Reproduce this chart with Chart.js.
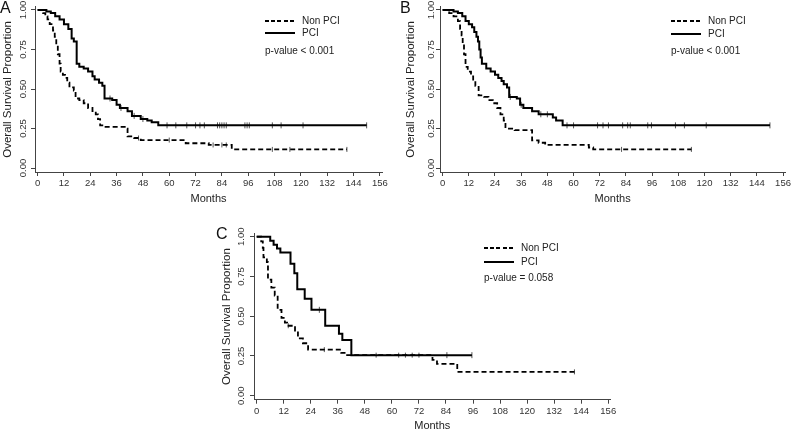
<!DOCTYPE html>
<html>
<head>
<meta charset="utf-8">
<script src="https://cdn.jsdelivr.net/npm/chart.js@4.4.1/dist/chart.umd.min.js"></script>
<style>
  html, body { margin: 0; padding: 0; background: #fff; }
  #wrap { position: relative; width: 793px; height: 433px; overflow: hidden; font-family: "Liberation Sans", Arial, sans-serif; }
  canvas { position: absolute; }
  .lbl { position: absolute; color: #222; font-size: 10px; line-height: 12px; white-space: nowrap; }
  .letter { position: absolute; color: #111; font-size: 16px; line-height: 16px; }
  .dash { position: absolute; width: 30px; height: 1.8px; background: repeating-linear-gradient(90deg, #000 0 4px, transparent 4px 6.2px); }
  .solid { position: absolute; width: 30px; height: 1.8px; background: #000; }
</style>
</head>
<body>
<div id="wrap">
  <canvas id="cA" width="395" height="215" style="left:0;top:0"></canvas>
  <canvas id="cB" width="393" height="215" style="left:400px;top:0"></canvas>
  <canvas id="cC" width="410" height="223" style="left:210px;top:210px"></canvas>

  <div class="letter" style="left:0px;top:0px">A</div>
  <div class="letter" style="left:400px;top:0px">B</div>
  <div class="letter" style="left:216px;top:226px">C</div>

  <div class="dash" style="left:265px;top:20px"></div>
  <div class="lbl" style="left:302px;top:15px">Non PCI</div>
  <div class="solid" style="left:265px;top:32px"></div>
  <div class="lbl" style="left:302px;top:27px">PCI</div>
  <div class="lbl" style="left:265px;top:45px">p-value &lt; 0.001</div>

  <div class="dash" style="left:671px;top:20px"></div>
  <div class="lbl" style="left:708px;top:15px">Non PCI</div>
  <div class="solid" style="left:671px;top:33px"></div>
  <div class="lbl" style="left:708px;top:28px">PCI</div>
  <div class="lbl" style="left:671px;top:45px">p-value &lt; 0.001</div>

  <div class="dash" style="left:484px;top:247px"></div>
  <div class="lbl" style="left:521px;top:242px">Non PCI</div>
  <div class="solid" style="left:484px;top:261px"></div>
  <div class="lbl" style="left:521px;top:256px">PCI</div>
  <div class="lbl" style="left:484px;top:272px">p-value = 0.058</div>
</div>
<script>
// ---- tick values ----
const xTickValues = [0, 12, 24, 36, 48, 60, 72, 84, 96, 108, 120, 132, 144, 156];
const yTickValues = [0, 0.25, 0.5, 0.75, 1];
const seriesNames = ['Non PCI', 'PCI'];

// ---- Panel A ----
const aNonTime = [0, 2.5, 3.5, 4.5, 5.5, 7, 7.8, 8.5, 9.2, 10, 10.5, 11.5, 12.5, 13.5, 14.5, 16.5, 17.3, 19, 21, 23, 25, 26.5, 27.5, 28.5, 30, 40.5, 41, 44, 47, 67.5, 78, 88.5, 141];
const aNonSurv = [1, 0.98, 0.96, 0.94, 0.91, 0.87, 0.83, 0.78, 0.72, 0.66, 0.61, 0.59, 0.57, 0.54, 0.51, 0.49, 0.44, 0.43, 0.41, 0.38, 0.36, 0.34, 0.31, 0.27, 0.26, 0.25, 0.20, 0.19, 0.177, 0.157, 0.146, 0.118, 0.118];
const aPciTime = [0, 4, 6, 8, 10, 12, 14, 15.5, 16.5, 17.8, 19, 21, 23, 25, 26, 28, 29.5, 30.5, 34, 36, 37.5, 41, 43, 47, 50, 52, 55, 150];
const aPciSurv = [1, 0.99, 0.98, 0.96, 0.94, 0.91, 0.88, 0.82, 0.80, 0.66, 0.64, 0.63, 0.61, 0.58, 0.56, 0.54, 0.52, 0.44, 0.43, 0.40, 0.38, 0.36, 0.33, 0.31, 0.30, 0.29, 0.27, 0.27];
const aNonCensor = [46, 60, 80, 84, 86, 107, 115, 141];
const aPciCensor = [33, 38, 44, 48, 59, 63, 68, 72, 74, 76, 82, 83, 84, 85, 86, 94.5, 95.5, 96.5, 107, 111, 121, 150];

// ---- Panel B ----
const bNonTime = [0, 3, 5, 7, 8, 8.7, 9.2, 9.8, 10.5, 11.5, 13, 14, 15, 16.5, 19, 21, 23, 25, 26.5, 28, 28.8, 33, 41, 44, 47, 67, 69, 114];
const bNonSurv = [1, 0.98, 0.96, 0.93, 0.88, 0.84, 0.79, 0.72, 0.64, 0.61, 0.58, 0.55, 0.52, 0.46, 0.45, 0.43, 0.41, 0.38, 0.34, 0.30, 0.25, 0.24, 0.175, 0.16, 0.146, 0.13, 0.118, 0.118];
const bPciTime = [0, 5, 7, 9, 10.5, 12, 13.5, 14.5, 15.5, 16.2, 16.8, 17.4, 18, 20, 22, 24, 25.5, 27, 28, 29.5, 30.5, 34, 35.5, 37, 41, 44, 50.5, 52, 55, 150];
const bPciSurv = [1, 0.99, 0.98, 0.96, 0.93, 0.91, 0.89, 0.86, 0.83, 0.80, 0.75, 0.70, 0.66, 0.63, 0.61, 0.59, 0.57, 0.55, 0.53, 0.51, 0.45, 0.44, 0.40, 0.38, 0.36, 0.34, 0.32, 0.30, 0.27, 0.27];
const bNonCensor = [82, 114];
const bPciCensor = [31, 36, 45, 48, 57, 60, 71, 73.5, 76, 82.5, 84.8, 86, 94, 95.7, 106.7, 110.8, 120.8, 150];

// ---- Panel C ----
const cNonTime = [0, 2, 2.7, 3, 4.5, 5, 6.5, 8, 9.3, 11, 12.5, 13.5, 17, 18.3, 20.5, 22.8, 37.5, 39, 78, 80, 89, 141];
const cNonSurv = [1, 0.97, 0.93, 0.87, 0.84, 0.73, 0.68, 0.63, 0.54, 0.49, 0.46, 0.44, 0.41, 0.36, 0.33, 0.29, 0.27, 0.255, 0.225, 0.20, 0.15, 0.15];
const cPciTime = [0, 6, 7.5, 9, 10.5, 15, 16.7, 18, 21.3, 24.3, 30.4, 36.5, 38, 42, 95.5];
const cPciSurv = [1, 0.975, 0.95, 0.925, 0.90, 0.83, 0.77, 0.67, 0.61, 0.54, 0.44, 0.39, 0.35, 0.255, 0.255];
const cNonCensor = [14, 30, 53, 63, 66, 69, 72, 141];
const cPciCensor = [27.8, 84.4, 95.5];

// ---- helpers ----
function stepAt(times, surv, t) {
  let v = surv[0];
  for (let i = 0; i < times.length; i++) { if (times[i] <= t) v = surv[i]; }
  return v;
}
function curve(times, surv) { return times.map((t, i) => ({ x: t, y: surv[i] })); }
function censor(cens, times, surv) { return cens.map(t => ({ x: t, y: stepAt(times, surv, t) })); }

const TXT = '#333';
const FONT = '"Liberation Sans", Arial, sans-serif';

const yLabelPlugin = {
  id: 'ylab',
  afterDraw(chart, args, opts) {
    const s = chart.scales.y;
    const ctx = chart.ctx;
    ctx.save();
    ctx.font = '9.5px ' + FONT;
    ctx.fillStyle = TXT;
    ctx.textAlign = 'center';
    ctx.textBaseline = 'middle';
    s.ticks.forEach(t => {
      const y = s.getPixelForValue(t.value);
      ctx.save();
      ctx.translate(opts.x, y);
      ctx.rotate(-Math.PI / 2);
      ctx.fillText(Number(t.value).toFixed(2), 0, 0);
      ctx.restore();
    });
    ctx.restore();
  }
};

function makeChart(id, p) {
  const datasets = [
    { type: 'line', label: seriesNames[0], data: curve(p.nonT, p.nonS), stepped: true, borderColor: '#000', borderWidth: 1.8, borderDash: [5, 3], pointRadius: 0, fill: false },
    { type: 'line', label: seriesNames[1], data: curve(p.pciT, p.pciS), stepped: true, borderColor: '#000', borderWidth: 2, pointRadius: 0, fill: false },
    { type: 'scatter', label: 'c1', data: censor(p.nonC, p.nonT, p.nonS), pointStyle: 'line', rotation: 90, pointRadius: 2.5, borderColor: '#555', borderWidth: 1 },
    { type: 'scatter', label: 'c2', data: censor(p.pciC, p.pciT, p.pciS), pointStyle: 'line', rotation: 90, pointRadius: 3, borderColor: '#555', borderWidth: 1 }
  ];
  return new Chart(document.getElementById(id), {
    type: 'line',
    data: { datasets },
    plugins: [yLabelPlugin],
    options: {
      responsive: false,
      animation: false,
      events: [],
      layout: { padding: { left: 0, right: p.padRight, top: p.padTop, bottom: 0 } },
      plugins: { legend: { display: false }, tooltip: { enabled: false }, ylab: { x: p.yLabX } },
      scales: {
        x: {
          type: 'linear', min: -1.2, max: 157,
          afterBuildTicks: s => { s.ticks = xTickValues.map(v => ({ value: v })); },
          afterFit: s => { s.height = p.xH; },
          ticks: { autoSkip: false, maxRotation: 0, minRotation: 0, padding: 2, color: TXT, font: { family: FONT, size: 9.5 } },
          grid: { display: true, drawOnChartArea: false, drawTicks: true, tickLength: 4, color: '#444', lineWidth: 1 },
          border: { display: true, color: '#444', width: 1 },
          title: { display: true, text: 'Months', color: '#222', font: { family: FONT, size: 11, lineHeight: p.monthsLH }, padding: { top: 0, bottom: p.monthsPad } }
        },
        y: {
          type: 'linear', min: -0.025, max: 1.02,
          afterBuildTicks: s => { s.ticks = yTickValues.map(v => ({ value: v })); },
          afterFit: s => { s.width = p.yW; },
          ticks: { display: false },
          grid: { display: true, drawOnChartArea: false, drawTicks: true, tickLength: 4, color: '#444', lineWidth: 1 },
          border: { display: true, color: '#444', width: 1 },
          title: { display: true, text: 'Overall Survival Proportion', color: '#222', font: { family: FONT, size: 11.5, lineHeight: 1.2 }, padding: { top: p.yTitlePad, bottom: p.yTitlePad } }
        }
      }
    }
  });
}

makeChart('cA', { nonT: aNonTime, nonS: aNonSurv, pciT: aPciTime, pciS: aPciSurv, nonC: aNonCensor, pciC: aPciCensor,
  padRight: 13, padTop: 6.8, xH: 43, yW: 35, yLabX: 23.3, monthsLH: 1.2, monthsPad: 9.4, yTitlePad: 1.4 });
makeChart('cB', { nonT: bNonTime, nonS: bNonSurv, pciT: bPciTime, pciS: bPciSurv, nonC: bNonCensor, pciC: bPciCensor,
  padRight: 4, padTop: 6.8, xH: 43, yW: 40, yLabX: 31.7, monthsLH: 1.2, monthsPad: 9.4, yTitlePad: 3.8 });
makeChart('cC', { nonT: cNonTime, nonS: cNonSurv, pciT: cPciTime, pciS: cPciSurv, nonC: cNonCensor, pciC: cPciCensor,
  padRight: 9.5, padTop: 23.5, xH: 33.3, yW: 44, yLabX: 31.7, monthsLH: 0.9, monthsPad: 2, yTitlePad: 9.8 });
</script>
</body>
</html>
